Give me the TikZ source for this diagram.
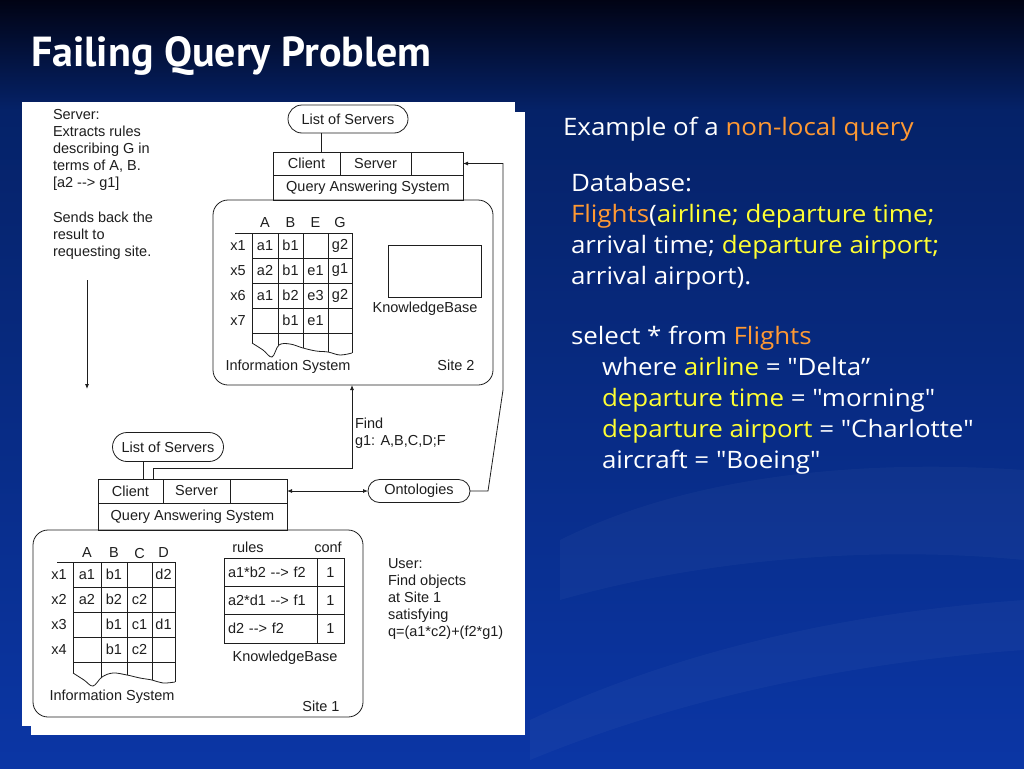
\documentclass[tikz,border=0pt]{standalone}
\usepackage{fontspec}
\usepackage{tikz}
\usetikzlibrary{arrows.meta, shapes.misc, positioning}
\newfontfamily\diagfont{Liberation Sans}
\newfontfamily\titlefont{PT Sans}
\newfontfamily\slidefont[FakeStretch=1.08]{Open Sans}
\definecolor{slideTop}{RGB}{1,3,20}
\definecolor{slideMid}{RGB}{5,34,104}
\definecolor{slideBot}{RGB}{11,54,165}
\definecolor{hlOrange}{RGB}{255,153,51}
\definecolor{hlYellow}{RGB}{255,255,51}
\definecolor{ink}{RGB}{30,30,30}
\newcommand{\hlo}[1]{\textcolor{hlOrange}{#1}}
\newcommand{\hly}[1]{\textcolor{hlYellow}{#1}}

\begin{document}
\begin{tikzpicture}[
    x=1pt, y=-1pt,
    every node/.style={font=\diagfont\fontsize{14.5}{17}\selectfont, text=ink, inner sep=0pt, outer sep=0pt},
    pill/.style={rounded rectangle, draw=ink, line width=0.8pt, minimum height=26pt},
    cell/.style={rectangle, draw=ink, line width=0.8pt},
    site/.style={rectangle, rounded corners=15pt, draw=ink, line width=0.8pt},
    grid/.style={draw=ink, line width=0.8pt},
    arrow/.style={-{Latex[length=5pt, width=4pt]}, draw=ink, line width=0.8pt},
    both/.style={{Latex[length=5pt, width=4pt]}-{Latex[length=5pt, width=4pt]}, draw=ink, line width=0.8pt},
    note/.style={align=left, anchor=north west},
    slide/.style={font=\slidefont\fontsize{24}{31}\selectfont, text=white, align=left, anchor=north west}
]
\useasboundingbox (0,0) rectangle (1024,768);
\shade[top color=slideTop, bottom color=slideMid] (0,0) rectangle (1024,110);
\shade[top color=slideMid, bottom color=slideBot] (0,110) rectangle (1024,768);
\fill[white, opacity=0.03] (560,540) .. controls (700,470) and (880,460) .. (1024,470) -- (1024,560) .. controls (870,545) and (700,560) .. (560,600) -- cycle;
\fill[white, opacity=0.03] (530,720) .. controls (700,640) and (880,610) .. (1024,600) -- (1024,650) .. controls (880,660) and (700,690) .. (530,760) -- cycle;
\fill[white] (22,102) rectangle (515,726);
\fill[white] (31,112) rectangle (525,735);

\node[font=\titlefont\bfseries\fontsize{42}{48}\selectfont, text=white, anchor=west] (title) at (31,56) {Failing Query Problem};

\node[note] (srvnote) at (53,109) {Server:\\Extracts rules\\describing G in\\terms of A, B.\\{}[a2 --> g1]};
\node[note] (srvsend) at (53,212) {Sends back the\\result to\\requesting site.};
\coordinate (downtop) at (87,280);
\coordinate (downbot) at (87,389);
\draw[arrow] (downtop) -- (downbot);

\node[pill, minimum width=120pt, minimum height=28pt] (list2) at (348,119) {List of Servers};
\node[cell, minimum width=67pt, minimum height=23pt] (client2) at (306.5,163.5) {Client};
\node[cell, minimum width=71pt, minimum height=23pt, right=0pt of client2] (server2) {Server};
\node[cell, minimum width=52pt, minimum height=23pt, right=0pt of server2] (blank2) {};
\node[cell, minimum width=190pt, minimum height=25pt, anchor=north west] (qas2) at (client2.south west) {Query Answering System};
\node[site, minimum width=280pt, minimum height=185pt, anchor=north west] (site2) at (213,200) {};
\node[cell, minimum width=93pt, minimum height=52pt] (kb2) at (434.5,271) {};
\node (kb2lab) at (425,309) {KnowledgeBase};
\node (is2lab) at (288,367) {Information System};
\node (site2lab) at (456,365) {Site 2};

\draw[grid] (235,233) -- (352,233);
\foreach \y in {258,283,308,333} \draw[grid] (252,\y) -- (352,\y);
\foreach \x/\yb in {252/343, 278/345, 303/348, 328/352, 352/353} \draw[grid] (\x,233) -- (\x,\yb);
\draw[grid] plot[smooth, tension=0.6] coordinates {(252,343) (263,350) (272,357) (279,345) (290,344) (303,348) (316,351) (328,352) (340,355) (352,353)};
\foreach \h/\x in {A/265, B/290.5, E/315.5, G/340} \node (s2h\h) at (\x,223) {\h};
\foreach \lab/\a/\b/\e/\g [count=\r] in {x1/a1/b1/{}/g2, x5/a2/b1/e1/g1, x6/a1/b2/e3/g2, x7/{}/b1/e1/{}} {
    \node (s2x\r) at (238,220.5+25*\r) {\lab};
    \node (s2a\r) at (265,220.5+25*\r) {\a};
    \node (s2b\r) at (290.5,220.5+25*\r) {\b};
    \node (s2e\r) at (315.5,220.5+25*\r) {\e};
    \node (s2g\r) at (340,220.5+25*\r) {\g};
}

\node[pill, minimum width=111pt, minimum height=29pt] (list1) at (168,447) {List of Servers};
\node[cell, minimum width=65pt, minimum height=24pt] (client1) at (130.5,491) {Client};
\node[cell, minimum width=67pt, minimum height=24pt, right=0pt of client1] (server1) {Server};
\node[cell, minimum width=57pt, minimum height=24pt, right=0pt of server1] (blank1) {};
\node[cell, minimum width=189pt, minimum height=27pt, anchor=north west] (qas1) at (client1.south west) {Query Answering System};
\node[site, minimum width=330pt, minimum height=187pt, anchor=north west] (site1) at (33,530) {};
\node[pill, minimum width=102pt, minimum height=23pt] (onto) at (419,491) {Ontologies};

\draw[grid] (57,562) -- (175,562);
\foreach \y in {587,612,637,662} \draw[grid] (73,\y) -- (175,\y);
\foreach \x/\yb in {73/673, 101/677, 127/675, 152/680, 175/682} \draw[grid] (\x,562) -- (\x,\yb);
\draw[grid] plot[smooth, tension=0.6] coordinates {(73,673) (84,680) (93,686) (102,677) (113,673) (127,675) (140,678) (152,680) (163,683) (175,682)};
\foreach \h/\x in {A/87, B/114, C/139.5, D/163.5} \node (s1h\h) at (\x,553) {\h};
\foreach \lab/\a/\b/\c/\d [count=\r] in {x1/a1/b1/{}/d2, x2/a2/b2/c2/{}, x3/{}/b1/c1/d1, x4/{}/b1/c2/{}} {
    \node (s1x\r) at (59,549.5+25*\r) {\lab};
    \node (s1a\r) at (87,549.5+25*\r) {\a};
    \node (s1b\r) at (114,549.5+25*\r) {\b};
    \node (s1c\r) at (139.5,549.5+25*\r) {\c};
    \node (s1d\r) at (163.5,549.5+25*\r) {\d};
}

\node (rulesh) at (248,547) {rules};
\node (confh) at (328,547) {conf};
\node[cell, minimum width=93pt, minimum height=28.3pt, text width=85pt, align=left, anchor=north west] (rule1) at (224,558) {a1*b2 --> f2};
\node[cell, minimum width=93pt, minimum height=28.3pt, text width=85pt, align=left, below=0pt of rule1] (rule2) {a2*d1 --> f1};
\node[cell, minimum width=93pt, minimum height=28.3pt, text width=85pt, align=left, below=0pt of rule2] (rule3) {d2 --> f2};
\node[cell, minimum width=27pt, minimum height=28.3pt, right=0pt of rule1] (conf1) {1};
\node[cell, minimum width=27pt, minimum height=28.3pt, right=0pt of rule2] (conf2) {1};
\node[cell, minimum width=27pt, minimum height=28.3pt, right=0pt of rule3] (conf3) {1};
\node (kb1lab) at (285,658) {KnowledgeBase};
\node (is1lab) at (112,697) {Information System};
\node (site1lab) at (321,706) {Site 1};

\node[note] (usernote) at (388,559) {User:\\Find objects\\at Site 1\\satisfying\\q=(a1*c2)+(f2*g1)};
\node[note] (findlab) at (355,418) {Find\\g1: A,B,C,D;F};

\draw[grid] ([xshift=-27pt]list2.south) -- ([xshift=-27pt]list2.south |- client2.north);
\draw[grid] ([xshift=-25pt]list1.south) -- ([xshift=-25pt]list1.south |- client1.north);
\coordinate (findturn) at (352,468);
\draw[arrow] ([xshift=22.5pt]client1.north) |- (findturn) -- (findturn |- site2.south);
\draw[arrow] (onto.east) -- (488,491) -- (503,390) -- (503,163.5) -- (blank2.east);
\draw[both] (blank1.east) -- (onto.west);

\node[slide, anchor=base west] (example) at (563,135) {Example of a \hlo{non-local query}};
\node[slide] (dbtext) at (571,173) {Database:\\\hlo{Flights}(\hly{airline; departure time;}\\arrival time; \hly{departure airport;}\\arrival airport).};
\node[slide] (qrytext) at (571,326) {select * from \hlo{Flights}\\\hspace*{31pt}where \hly{airline} = "Delta”\\\hspace*{31pt}\hly{departure time} = "morning"\\\hspace*{31pt}\hly{departure airport} = "Charlotte"\\\hspace*{31pt}aircraft = "Boeing"};
\end{tikzpicture}
\end{document}
